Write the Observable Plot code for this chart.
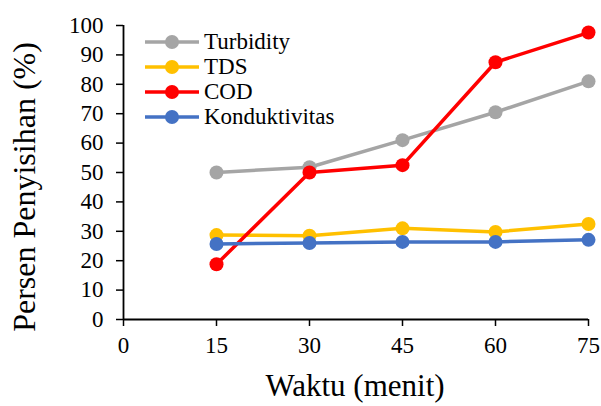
<!DOCTYPE html>
<html>
<head>
<meta charset="utf-8">
<script src="https://cdn.jsdelivr.net/npm/d3@7"></script>
<script src="https://cdn.jsdelivr.net/npm/@observablehq/plot@0.6"></script>
<style>
  html, body { margin: 0; padding: 0; background: #fff; }
  #wrap { position: relative; width: 601px; height: 406px; color: #000; }
  #wrap, #wrap *, #wrap svg text { font-family: 'Liberation Serif', serif !important; }
  #ylabel { position: absolute; left: 24px; top: 187px; transform: translate(-50%, -50%) rotate(-90deg); white-space: nowrap; font-size: 32px; line-height: 1; }
  #xlabel { position: absolute; left: 355px; top: 385px; transform: translate(-50%, -50%); white-space: nowrap; font-size: 31px; line-height: 1; }
  #legend { position: absolute; left: 145px; top: 29px; font-size: 23px; line-height: 25px; }
  .row { display: flex; align-items: center; height: 25px; }
  .row svg { margin-right: 5px; }
</style>
</head>
<body>
<div id="wrap">
  <div id="ylabel">Persen Penyisihan (%)</div>
  <div id="xlabel">Waktu (menit)</div>
  <div id="legend"></div>
</div>
<script>
const times = [15, 30, 45, 60, 75];
const seriesNames = ["Turbidity", "TDS", "COD", "Konduktivitas"];
const seriesColors = ["#A5A5A5", "#FFC000", "#FF0000", "#4472C4"];
const turbidity = [50, 51.8, 61, 70.5, 81];
const tds = [28.7, 28.5, 31, 29.8, 32.5];
const cod = [18.8, 50, 52.5, 87.5, 97.6];
const konduktivitas = [25.7, 26, 26.4, 26.4, 27.1];
const xTicks = [0, 15, 30, 45, 60, 75];
const yTicks = [0, 10, 20, 30, 40, 50, 60, 70, 80, 90, 100];

const allSeries = [turbidity, tds, cod, konduktivitas];
const data = [];
allSeries.forEach((vals, i) => {
  vals.forEach((v, j) => data.push({series: seriesNames[i], t: times[j], v}));
});

const color = {domain: seriesNames, range: seriesColors};

const chart = Plot.plot({
  width: 601,
  height: 406,
  marginLeft: 123,
  marginRight: 13,
  marginTop: 25,
  marginBottom: 87,
  style: {fontSize: "23px", color: "#000", background: "#fff"},
  x: {domain: [0, 75]},
  y: {domain: [0, 100]},
  color,
  marks: [
    Plot.axisX({ticks: xTicks, tickSize: 7, tickPadding: 10, label: null, strokeWidth: 1.5, fontSize: 23, fontFamily: "Liberation Serif"}),
    Plot.axisY({ticks: yTicks, tickSize: 7, tickPadding: 13, label: null, strokeWidth: 1.5, fontSize: 23, fontFamily: "Liberation Serif"}),
    Plot.ruleY([0], {stroke: "#000", strokeWidth: 1.8}),
    Plot.ruleX([0], {stroke: "#000", strokeWidth: 1.8}),
    Plot.line(data, {x: "t", y: "v", z: "series", stroke: "series", strokeWidth: 3.5}),
    Plot.dot(data, {x: "t", y: "v", fill: "series", r: 7})
  ]
});
document.getElementById("wrap").prepend(chart);
chart.style.position = "absolute";
chart.style.left = "0";
chart.style.top = "0";

const legend = document.getElementById("legend");
seriesNames.forEach((name, i) => {
  const row = document.createElement("div");
  row.className = "row";
  row.innerHTML = `<svg width="54" height="20"><line x1="0" y1="10" x2="54" y2="10" stroke="${seriesColors[i]}" stroke-width="3.5"/><circle cx="27" cy="10" r="7" fill="${seriesColors[i]}"/></svg><span>${name}</span>`;
  legend.appendChild(row);
});
</script>
</body>
</html>
